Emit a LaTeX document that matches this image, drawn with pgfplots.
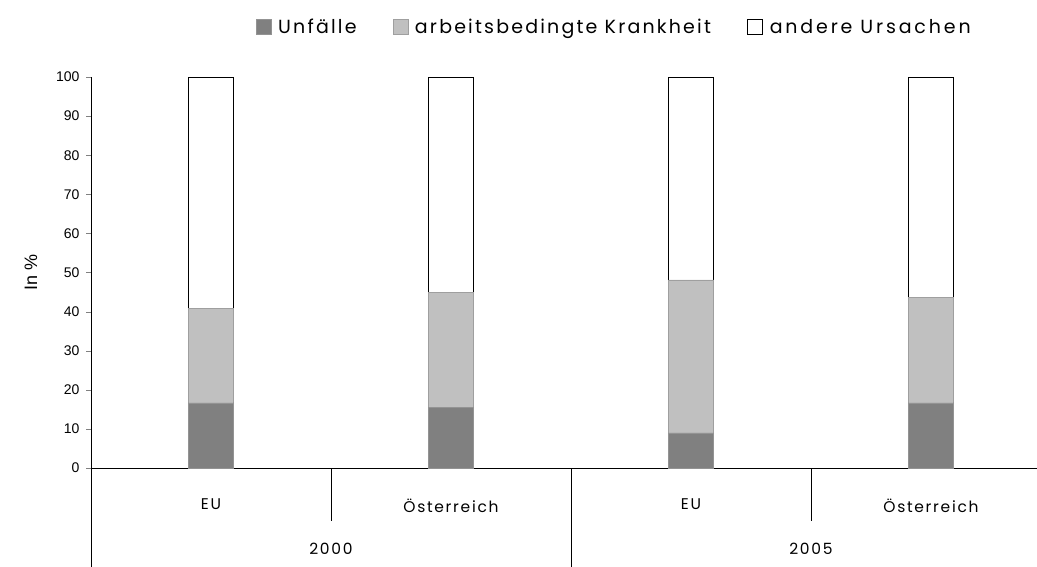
\documentclass[border=0pt]{standalone}
\usepackage{fontspec}
\setmainfont{Liberation Sans}
\newfontfamily\cg[LetterSpace=11]{Poppins}
\newfontfamily\cgl[LetterSpace=11.5]{Poppins}
\newfontfamily\cgm[LetterSpace=15]{Poppins}
\usepackage{pgfplots}
\pgfplotsset{compat=1.18}
\definecolor{dk}{HTML}{808080}
\definecolor{lt}{HTML}{C0C0C0}
\begin{document}
\begin{tikzpicture}[x=1pt,y=1pt]
\useasboundingbox (0,0) rectangle (1037,566);
\clip (0,0) rectangle (1037,566);
\begin{axis}[
  at={(91pt,98pt)}, anchor=south west,
  scale only axis, width=960pt, height=391pt,
  xmin=-0.5, xmax=3.5, ymin=0, ymax=100,
  axis x line*=bottom, axis y line*=left,
  axis line style={black, line width=0.9pt},
  ybar stacked, bar width=45pt,
  xtick={0,1,2,3}, xticklabels={EU,Österreich,EU,Österreich},
  x tick label style={font=\cg\fontsize{15.5}{18}\selectfont, yshift=-22pt},
  major x tick style={draw=none},
  ytick={0,10,...,100},
  tick align=outside, major tick length=5pt,
  y tick label style={font=\fontsize{14}{16}\selectfont, xshift=-3pt},
  /pgf/number format/assume math mode=true,
  ylabel={In \%}, ylabel style={font=\fontsize{18}{20}\selectfont, yshift=12pt},
  clip=false,
  legend columns=3,
  legend style={draw=none, at={(0.1715,1.1275)}, anchor=west,
    font=\cgl\fontsize{19}{22}\selectfont,
    inner xsep=0pt,
    /tikz/every odd column/.append style={column sep=5pt},
    /tikz/every even column/.append style={column sep=34pt}},
  legend image code/.code={\draw[#1] (0pt,-7.5pt) rectangle (15pt,7.5pt);},
]
\addplot[fill=dk, draw=dk!85!white] coordinates {(0,16.7) (1,15.5) (2,9.0) (3,16.7)};
\addlegendentry{Unfälle}
\addplot[fill=lt, draw=gray!75] coordinates {(0,24.1) (1,29.4) (2,39.1) (3,27.0)};
\addlegendentry{arbeitsbedingte Krankheit}
\addplot[fill=white, draw=black, line width=0.8pt] coordinates {(0,59.2) (1,55.1) (2,51.9) (3,56.3)};
\addlegendentry{\cgm andere Ursachen}
\draw[black, line width=0.9pt] (axis cs:-0.5,0) -- ([yshift=-100pt]axis cs:-0.5,0);
\draw[black, line width=0.9pt] (axis cs:1.5,0) -- ([yshift=-100pt]axis cs:1.5,0);
\draw[black, line width=0.9pt] (axis cs:0.5,0) -- ([yshift=-53pt]axis cs:0.5,0);
\draw[black, line width=0.9pt] (axis cs:2.5,0) -- ([yshift=-53pt]axis cs:2.5,0);
\node[font=\cg\fontsize{15.5}{18}\selectfont] at ([yshift=-81pt]axis cs:0.5,0) {2000};
\node[font=\cg\fontsize{15.5}{18}\selectfont] at ([yshift=-81pt]axis cs:2.5,0) {2005};
\end{axis}
\end{tikzpicture}
\end{document}
